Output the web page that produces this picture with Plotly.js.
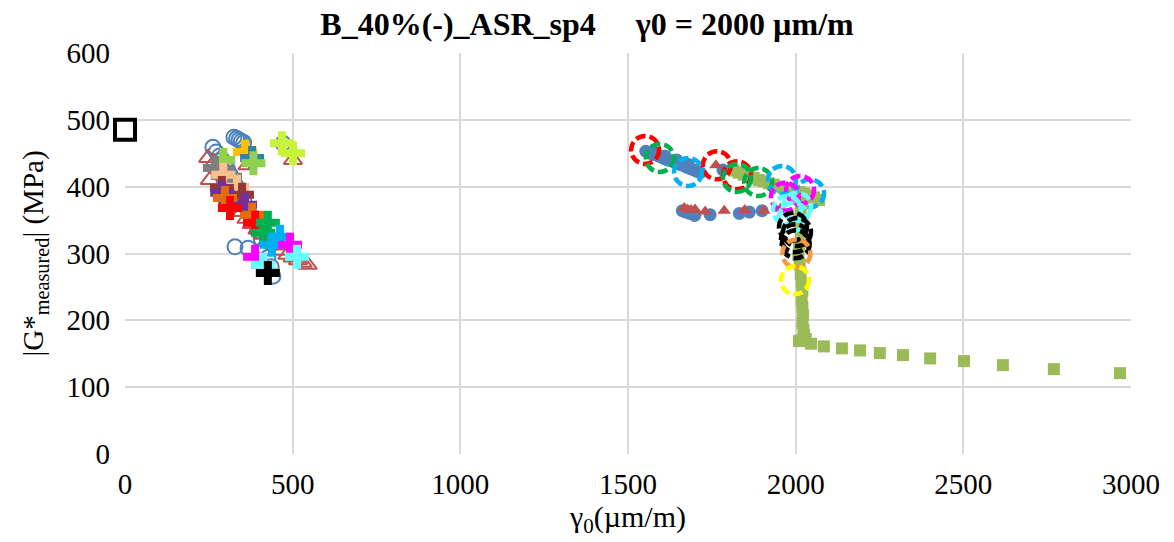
<!DOCTYPE html>
<html><head><meta charset="utf-8">
<script src="https://cdn.plot.ly/plotly-3.0.1.min.js"></script>
<style>body{margin:0;background:#fff}#c{width:1174px;height:542px}</style>
</head><body><div id="c"></div>
<script>
// ---- data ----
// reference marker
const refX = [0];
const refY = [485];

// left cluster: open circles
const openCircX = [325,333,340,347,354,262,272,282,290,298,306,314,322,330,338,346,356,366,376,386,396,406,416,426,436,441,328,367,471];
const openCircY = [474,472,470,468,466,459,452,446,440,433,426,418,410,402,394,386,376,366,356,346,334,322,308,294,280,266,310,308,465];
// left cluster: open triangles
const openTriX = [248,253,265,275,285,300,312,322,334,348,362,378,395,412,430,448,466,484,500,516,530,545,501,365];
const openTriY = [443,410,436,428,420,410,398,388,375,362,352,344,336,328,320,312,304,298,294,290,286,283,440,432];

// left cluster: crosses, one series per colour
const crossSeries = [
  {name:'c1',  color:'#FFC000', x:[358], y:[452]},
  {name:'c2',  color:'#31859C', x:[379], y:[443]},
  {name:'c3',  color:'#92D050', x:[293,383], y:[440,435]},
  {name:'c4',  color:'#7F7F7F', x:[268,313], y:[428,415]},
  {name:'c5',  color:'#FAC090', x:[293,334], y:[418,400]},
  {name:'c6',  color:'#953735', x:[289,349], y:[398,388]},
  {name:'c7',  color:'#7030A0', x:[290,358], y:[391,373]},
  {name:'c8',  color:'#E46C0A', x:[298,379], y:[383,358]},
  {name:'c9',  color:'#FF0000', x:[313,388], y:[368,346]},
  {name:'c10', color:'#00B050', x:[426,412], y:[346,331]},
  {name:'c11', color:'#00B0F0', x:[462,438], y:[325,313]},
  {name:'c12', color:'#FF00FF', x:[492,388], y:[313,295]},
  {name:'c13', color:'#66FFFF', x:[513,412], y:[295,283]},
  {name:'c14', color:'#000000', x:[426], y:[271]},
  {name:'c15', color:'#C9F23A', x:[468,501], y:[465,450]}
];

// right cluster: filled blue circles
const blueX = [1553,1562,1571,1580,1590,1600,1609,1618,1628,1638,1648,1657,1667,1676,1686,1696,1706,1715,1575,1610,1645,1680,1783,1662,1672,1684,1699,1745,1832,1862,1900];
const blueY = [453,451,449,448,446,444,442,440,439,437,435,433,431,429,427,425,423,421,452,446,440,433,425,364,362,360,357,358,360,362,364];
// right cluster: filled red triangles
const redTriX = [1668,1678,1688,1700,1730,1787,1848,1905,1955,1762];
const redTriY = [368,366,365,366,363,364,365,364,367,432];
// green squares: band, drop and tail
const greenX = [1815,1830,1845,1860,1875,1890,1905,1920,1935,1950,1965,1980,1995,2010,2025,2040,2055,2070,
                2020,2015,2010,2012,2015,2010,2008,2012,2015,2018,2020,2018,2020,2022,2020,2023,2025,2015,2030,
                2010,2046,2084,2138,2192,2251,2320,2401,2502,2618,2770,2967];
const greenY = [424,421,418,415,413,410,408,405,403,400,398,396,394,392,390,387,384,380,
                375,365,352,340,326,312,298,284,270,256,244,232,220,208,196,186,178,170,172,
                169,165,161,158,155,151,148,143,139,133,127,121];

// dashed ring markers (centres)
const ringSeries = [
  {color:'#FF0000', x:[1551,1765,1825], y:[455,432,417]},
  {color:'#00B050', x:[1595,1825,1888], y:[443,413,407]},
  {color:'#00B0F0', x:[1679,1959,2043], y:[422,410,390]},
  {color:'#FF00FF', x:[2013,1968], y:[395,385]},
  {color:'#66FFFF', x:[1974,1992,2004], y:[365,355,370]},
  {color:'#000000', x:[1992,2004,1998,2000], y:[340,332,323,314]},
  {color:'#F79646', x:[2002], y:[300]},
  {color:'#FFFF00', x:[1998], y:[260]}
];

// ---- traces ----
const traces = [];
traces.push({x:openCircX, y:openCircY, mode:'markers', type:'scatter',
  marker:{symbol:'circle-open', size:15, color:'#4F81BD', line:{width:2}}});
traces.push({x:openTriX, y:openTriY, mode:'markers', type:'scatter',
  marker:{symbol:'triangle-up-open', size:16, color:'#C0504D', line:{width:2}}});
crossSeries.forEach(s => traces.push({x:s.x, y:s.y, mode:'markers', type:'scatter',
  marker:{symbol:'cross', size:20, color:s.color, line:{width:0}}}));
traces.push({x:blueX, y:blueY, mode:'markers', type:'scatter',
  marker:{symbol:'circle', size:13, color:'#4F81BD'}});
traces.push({x:redTriX, y:redTriY, mode:'markers', type:'scatter',
  marker:{symbol:'triangle-up', size:12, color:'#C0504D'}});
traces.push({x:greenX, y:greenY, mode:'markers', type:'scatter',
  marker:{symbol:'square', size:12, color:'#9BBB59'}});
traces.push({x:refX, y:refY, mode:'markers', type:'scatter', cliponaxis:false,
  marker:{symbol:'square-open', size:20, color:'#000000', line:{width:4}}});

// dashed rings as pixel-sized shapes anchored at data points
const shapes = [];
ringSeries.forEach(s => s.x.forEach((xv,i) => shapes.push({
  type:'circle', xref:'x', yref:'y', xsizemode:'pixel', ysizemode:'pixel',
  xanchor:xv, yanchor:s.y[i], x0:-14, x1:14, y0:-14, y1:14,
  line:{color:s.color, width:4.5, dash:'10px,4px'}, fillcolor:'rgba(0,0,0,0)'
})));

const font = 'Liberation Serif, Times New Roman, serif';
const layout = {
  width:1174, height:542,
  margin:{l:125, r:43, t:53, b:88},
  paper_bgcolor:'#fff', plot_bgcolor:'#fff',
  showlegend:false,
  font:{family:font, size:29, color:'#000'},
  title:{text:'<b>B_40%(-)_ASR_sp4\u00A0\u00A0\u00A0\u00A0 γ0 = 2000 µm/m</b>', x:0.5, xanchor:'center', y:0.957, yanchor:'middle',
    font:{family:font, size:32, color:'#000'}},
  xaxis:{range:[0,3000], dtick:500, tick0:0, showgrid:true, gridcolor:'#D9D9D9', gridwidth:2,
    zeroline:false, showline:false, ticks:'', ticklabelstandoff:10,
    tickfont:{family:font, size:29, color:'#000'},
    title:{text:'γ<sub>0</sub>(µm/m)', standoff:2, font:{family:font, size:30, color:'#000'}}},
  yaxis:{range:[0,600], dtick:100, tick0:0, showgrid:true, gridcolor:'#D9D9D9', gridwidth:2,
    zeroline:false, showline:false, ticks:'', ticklabelstandoff:14,
    tickfont:{family:font, size:29, color:'#000'},
    title:{text:'|G*<sub>measured</sub>| (MPa)', standoff:14, font:{family:font, size:29, color:'#000'}}},
  shapes:shapes
};
Plotly.newPlot('c', traces, layout, {staticPlot:true});
</script>
</body></html>
